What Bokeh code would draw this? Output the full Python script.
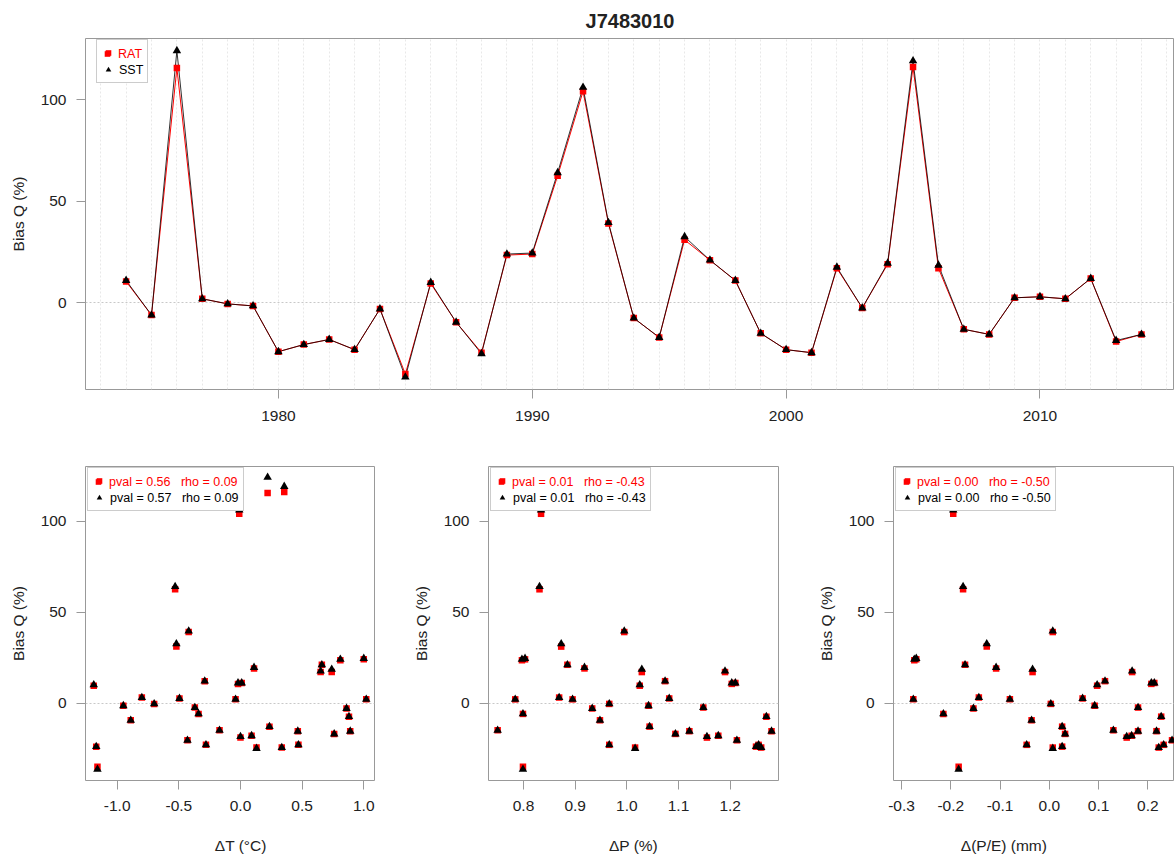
from bokeh.plotting import figure
from bokeh.layouts import column, row
from bokeh.models import FixedTicker, PrintfTickFormatter, Legend, LegendItem, Range1d, Title
from bokeh.embed import file_html
from bokeh.resources import INLINE

# ---------------- data ----------------
title_text = "J7483010"
years = list(range(1974, 2015))
bias_rat = [10.5, -6, 115.5, 2, -0.5, -1.5, -24, -20.5, -18, -23,
            -3, -35, 9.5, -9.5, -24.5, 23.5, 24, 62.5, 104, 39,
            -7.5, -17, 31, 21, 11, -15, -23, -24.5, 17, -2.5,
            19, 116, 17, -13, -15.5, 2.5, 3, 2, 12, -19,
            -15.5]
bias_sst = [11, -6, 124, 2, -0.5, -1.5, -24, -20.5, -18, -23,
            -3, -36.5, 10, -9.5, -25, 24, 24.5, 64, 106, 39.5,
            -7.5, -17, 32.5, 21, 11, -15, -23, -24.5, 17.5, -2.5,
            19.5, 119, 18.5, -13, -15.5, 2.5, 3, 2, 12, -18.5,
            -15.5]
delta_T = [-0.02, -0.34, 0.22, -0.04, -0.70, -0.95, -1.17, -0.43, 0.09, -0.28,
           0.86, -1.16, -1.19, -0.89, 0.13, 0.81, 1.00, -0.53, -0.01, -0.42,
           0.88, 0.76, -0.52, 0.66, 0.01, -0.17, 0.47, 0.335, 0.65, -0.37,
           0.11, 0.355, 0.74, 0.235, 0.89, -0.495, -0.80, 1.02, -0.29, 0.00,
           0.465]
delta_P = [1.203, 0.799, 0.88, 0.895, 0.966, 1.042, 1.25, 1.213, 1.177, 0.966,
           0.933, 0.799, 1.025, 0.948, 1.016, 0.797, 0.803, 0.831, 0.834, 0.995,
           1.27, 1.094, 0.873, 0.885, 1.21, 0.75, 1.255, 1.26, 1.19, 1.148,
           0.918, 0.95, 1.029, 1.044, 1.121, 1.082, 0.869, 0.784, 1.074, 1.155,
           1.28]
delta_PE = [0.207, -0.215, -0.23, -0.276, 0.003, 0.092, 0.026, 0.249, 0.167, -0.046,
            -0.154, -0.184, 0.097, -0.036, 0.007, -0.274, -0.270, -0.175, -0.195, 0.007,
            0.227, 0.032, -0.127, -0.171, 0.213, 0.13, 0.232, 0.222, 0.168, 0.18,
            -0.108, -0.12, -0.034, 0.026, 0.18, 0.0675, -0.143, -0.08, 0.113, 0.157,
            0.2175]
series_names = ["RAT", "SST"]
y_ticks = [0, 50, 100]
year_ticks = [1980, 1990, 2000, 2010]
year_grid = list(range(1973, 2016))
panel_xlabels = ["\u0394T (\u00b0C)", "\u0394P (%)", "\u0394(P/E) (mm)"]
panel_xticks = [[-1.0, -0.5, 0.0, 0.5, 1.0],
                [0.8, 0.9, 1.0, 1.1, 1.2],
                [-0.3, -0.2, -0.1, 0.0, 0.1, 0.2]]
panel_stats_rat = [("0.56", "0.09"), ("0.01", "-0.43"), ("0.00", "-0.50")]
panel_stats_sst = [("0.57", "0.09"), ("0.01", "-0.43"), ("0.00", "-0.50")]

# ---------------- style ----------------
FONT = "Liberation Sans"
FRAME = "#999999"
TXT = "#222222"
RED = "#ff0000"
Y_RANGE = (-42.6, 130.0)
NBSP = "\u00a0"


def style_axes(p, xticks, fmt=None, x_standoff=11):
    p.outline_line_color = FRAME
    p.outline_line_width = 1
    for ax in (p.xaxis[0], p.yaxis[0]):
        ax.axis_line_color = None
        ax.major_tick_line_color = FRAME
        ax.major_tick_in = 0
        ax.major_tick_out = 9
        ax.minor_tick_line_color = None
        ax.major_label_text_font = FONT
        ax.major_label_text_font_size = "15.5px"
        ax.major_label_text_color = TXT
        ax.axis_label_text_font = FONT
        ax.axis_label_text_font_size = "15.5px"
        ax.axis_label_text_font_style = "normal"
        ax.axis_label_text_color = TXT
    p.xaxis[0].ticker = FixedTicker(ticks=xticks)
    if fmt is not None:
        p.xaxis[0].formatter = PrintfTickFormatter(format=fmt)
    p.xaxis[0].major_label_standoff = x_standoff
    p.xaxis[0].axis_label_standoff = 23
    p.yaxis[0].ticker = FixedTicker(ticks=y_ticks)
    p.yaxis[0].major_label_standoff = 10
    p.yaxis[0].axis_label_standoff = 11
    p.yaxis[0].axis_label = "Bias Q (%)"
    p.ygrid[0].ticker = FixedTicker(ticks=[0])
    p.ygrid[0].grid_line_color = "#c8c8c8"
    p.ygrid[0].grid_line_dash = "2 2"
    p.ygrid[0].grid_line_width = 1


def add_legend(p, r_rat, r_sst, lab_rat, lab_sst, x, top_off, frame_h):
    row_h = 17
    pad = 4
    common = dict(spacing=0, label_height=row_h, glyph_height=row_h, glyph_width=14,
                  label_standoff=4, margin=0, label_text_font=FONT,
                  label_text_font_size="12.5px", label_text_line_height=1.0)
    h_full = 2 * pad + 2 * row_h
    # boxed legend: both markers, black SST text (first row text left blank)
    leg_full = Legend(items=[LegendItem(label=" ", renderers=[r_rat]),
                             LegendItem(label=lab_sst, renderers=[r_sst])],
                      location=(x, frame_h - top_off - h_full), padding=pad,
                      border_line_color=FRAME, border_line_width=1,
                      background_fill_color="white", background_fill_alpha=1.0,
                      label_text_color="black", **common)
    # borderless overlay (no padding applied): red RAT text on the first row
    leg_red = Legend(items=[LegendItem(label=lab_rat, renderers=[r_rat])],
                     location=(x + pad, frame_h - top_off - pad - row_h), padding=0,
                     border_line_color=None, background_fill_alpha=0.0,
                     label_text_color=RED, **common)
    p.add_layout(leg_full)
    p.add_layout(leg_red)


# ---------------- top time series ----------------
top_h, top_mt, top_mb = 440, 37, 51
top = figure(width=1174, height=top_h, output_backend="svg", toolbar_location=None,
             x_range=Range1d(1972.4, 2015.3), y_range=Range1d(*Y_RANGE),
             min_border_left=85, min_border_right=0, min_border_top=top_mt,
             min_border_bottom=top_mb, background_fill_color="white",
             border_fill_color="white")
top.title = Title(text=title_text, align="center", text_font=FONT,
                  text_font_size="20px", text_font_style="bold", text_color=TXT,
                  standoff=14)
style_axes(top, year_ticks, x_standoff=12)
top.xgrid[0].ticker = FixedTicker(ticks=year_grid)
top.xgrid[0].grid_line_color = "#e8e8e8"
top.xgrid[0].grid_line_dash = "2 2"
top.xgrid[0].grid_line_width = 1

top.line(years, bias_rat, line_color=RED, line_width=1)
top.line(years, bias_sst, line_color="black", line_width=1, line_alpha=0.8)
r_rat = top.scatter(years, bias_rat, marker="square", size=6.5, fill_color=RED, line_color=None)
r_sst = top.scatter(years, bias_sst, marker="triangle", size=8.5, fill_color="black", line_color=None)
add_legend(top, r_rat, r_sst, series_names[0], series_names[1], 11, 4,
           top_h - top_mt - top_mb)

# ---------------- bottom scatter panels ----------------
bot_h, bot_mt, bot_mb = 417, 26, 77
panel_x = [delta_T, delta_P, delta_PE]
panel_ranges = [(-1.257, 1.087), (0.7323, 1.2935), (-0.3162, 0.254)]
# non-breaking-space padding (before, after) that nudges each x-axis title sideways
panel_xlabel_pad = [(5, 0), (0, 0), (0, 14)]
panel_w = [404, 404, 366]
panel_ml = [85, 84, 85]
panel_mr = [30, 30, 0]
frame_h_bot = bot_h - bot_mt - bot_mb
panels = []
for i in range(3):
    p = figure(width=panel_w[i], height=bot_h, output_backend="svg", toolbar_location=None,
               x_range=Range1d(*panel_ranges[i]), y_range=Range1d(*Y_RANGE),
               min_border_left=panel_ml[i], min_border_right=panel_mr[i],
               min_border_top=bot_mt, min_border_bottom=bot_mb,
               background_fill_color="white", border_fill_color="white")
    style_axes(p, panel_xticks[i], fmt="%.1f", x_standoff=11)
    p.xgrid[0].grid_line_color = None
    before, after = panel_xlabel_pad[i]
    p.xaxis[0].axis_label = NBSP * before + panel_xlabels[i] + NBSP * after
    rr = p.scatter(panel_x[i], bias_rat, marker="square", size=6.5, fill_color=RED, line_color=None)
    rs = p.scatter(panel_x[i], bias_sst, marker="triangle", size=8.5, fill_color="black", line_color=None)
    lab_r = "pval = %s \u00a0 rho = %s" % panel_stats_rat[i]
    lab_s = "pval = %s \u00a0 rho = %s" % panel_stats_sst[i]
    add_legend(p, rr, rs, lab_r, lab_s, 2, 3, frame_h_bot)
    panels.append(p)

layout = column(top, row(*panels, spacing=0), spacing=0)
open("out.html", "w").write(file_html(layout, INLINE))
